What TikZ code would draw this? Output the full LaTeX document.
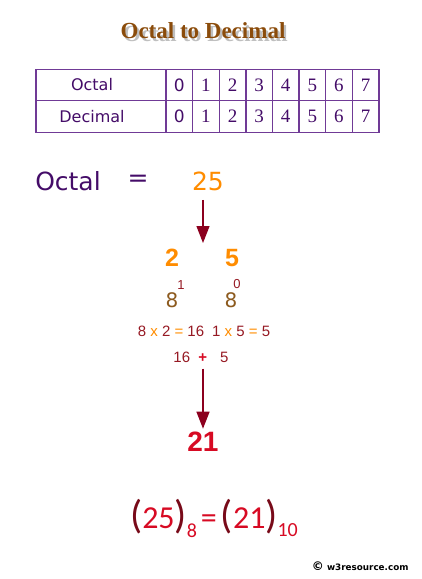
\documentclass[tikz,border=0pt]{standalone}
\usepackage{fontspec}
\setmainfont{Liberation Serif}
\setsansfont{DejaVu Sans}
\newfontfamily\arialfont{Liberation Sans}
\newfontfamily\calfont{Carlito}
\usetikzlibrary{arrows.meta}
\definecolor{titlebrown}{RGB}{139, 76, 11}
\definecolor{gridpurple}{RGB}{112, 58, 150}
\definecolor{inkpurple}{RGB}{68, 12, 104}
\definecolor{octorange}{RGB}{255, 140, 0}
\definecolor{arrowred}{RGB}{140, 0, 30}
\definecolor{eightbrown}{RGB}{140, 90, 30}
\definecolor{calcred}{RGB}{150, 25, 35}
\definecolor{resultred}{RGB}{215, 10, 35}
\definecolor{parenred}{RGB}{120, 10, 25}

\begin{document}
\begin{tikzpicture}[x=1pt, y=-1pt,
    label/.style={draw=gridpurple, line width=1.4pt, minimum width=130pt, minimum height=31.5pt, inner sep=0pt, font=\sffamily\fontsize{16}{16}\selectfont, text=inkpurple},
    digit/.style={draw=gridpurple, line width=1.4pt, minimum width=26.6pt, minimum height=31.5pt, inner sep=0pt, font=\fontsize{19}{19}\selectfont, text=inkpurple},
    bigarrow/.style={-{Triangle[width=13pt, length=17pt]}, line width=1.3pt, arrowred},
    calc/.style={font=\arialfont\fontsize{15}{15}\selectfont, text=calcred, inner sep=0pt}
  ]
    \useasboundingbox (0, 0) rectangle (422, 579);

    % title with shadow
    \node[text=titlebrown, font=\bfseries\fontsize{23}{23}\selectfont] at (203, 32) (title)
      {\makebox[0pt][l]{\hspace{2.5pt}\raisebox{-2.5pt}{\textcolor{black!25}{Octal to Decimal}}}Octal to Decimal};

    % table
    \node[label] at (101, 85)    (octhead) {Octal\kern18pt};
    \node[label] at (101, 116.5) (dechead) {Decimal\kern18pt};
    \foreach \d in {0,...,7} {
      \ifnum\d=0
        \node[digit, font=\sffamily\fontsize{17}{17}\selectfont] at (179.3+26.6*\d, 85)    (oct\d) {\d};
        \node[digit, font=\sffamily\fontsize{17}{17}\selectfont] at (179.3+26.6*\d, 116.5) (dec\d) {\d};
      \else
        \node[digit] at (179.3+26.6*\d, 85)    (oct\d) {\d};
        \node[digit] at (179.3+26.6*\d, 116.5) (dec\d) {\d};
      \fi
    }

    % Octal = 25
    \node[font=\sffamily\fontsize{25}{25}\selectfont, text=inkpurple] at (68, 181)  (octal) {Octal};
    \node[font=\sffamily\fontsize{25}{25}\selectfont, text=inkpurple] at (138, 181) (eq)    {=};
    \node[font=\sffamily\fontsize{25}{25}\selectfont, text=octorange] at (208, 181) (num)   {25};

    % split digits
    \node[font=\arialfont\bfseries\fontsize{25}{25}\selectfont, text=octorange] at (172, 258) (dtwo)  {2};
    \node[font=\arialfont\bfseries\fontsize{25}{25}\selectfont, text=octorange] at (232, 258) (dfive) {5};

    \node[font=\sffamily\fontsize{20}{20}\selectfont, text=eightbrown, inner sep=0pt] at (172, 300) (bone) {8};
    \node[font=\arialfont\fontsize{13}{13}\selectfont, text=calcred, inner sep=0pt] at (181, 285) (pone) {1};
    \node[font=\sffamily\fontsize{20}{20}\selectfont, text=eightbrown, inner sep=0pt] at (231, 300) (bzero) {8};
    \node[font=\arialfont\fontsize{13}{13}\selectfont, text=calcred, inner sep=0pt] at (237, 284) (pzero) {0};

    \node[calc] at (204, 331) (products) {8 \textcolor{octorange}{x} 2 \textcolor{octorange}{=} 16\hspace{8pt}1 \textcolor{octorange}{x} 5 \textcolor{octorange}{=} 5};
    \node[calc] at (201, 357) (sum) {16 \hspace{4pt}\textcolor{resultred}{\textbf{+}}\hspace{2pt} \hspace{7pt}5};

    \node[font=\arialfont\bfseries\fontsize{28}{28}\selectfont, text=resultred] at (203, 442) (result) {21};

    % arrows
    \draw[bigarrow] (num.south) ++(-5, 6) coordinate (a1) -- (203, 243) coordinate (a2);
    \draw[bigarrow] (sum.south) ++(2, 6) coordinate (b1) -- (result.north);

    % final equation
    \node[font=\calfont\fontsize{32}{32}\selectfont, inner sep=0pt] at (214, 518) (final)
      {\textcolor{parenred}{\fontsize{40}{40}\selectfont(}\textcolor{resultred}{25}\textcolor{parenred}{\fontsize{40}{40}\selectfont)}\raisebox{-9pt}{\textcolor{resultred}{\fontsize{20}{20}\selectfont 8}}\hspace{4pt}\textcolor{resultred}{=}\hspace{4pt}\textcolor{parenred}{\fontsize{40}{40}\selectfont(}\textcolor{resultred}{21}\textcolor{parenred}{\fontsize{40}{40}\selectfont)}\raisebox{-8pt}{\textcolor{resultred}{\fontsize{20}{20}\selectfont 10}}};

    \node[font=\sffamily\bfseries\fontsize{8.8}{8.8}\selectfont, anchor=east] at (412, 566) (copy) {{\fontsize{12}{12}\selectfont\textcopyright} w3resource.com};
  \end{tikzpicture}
\end{document}
